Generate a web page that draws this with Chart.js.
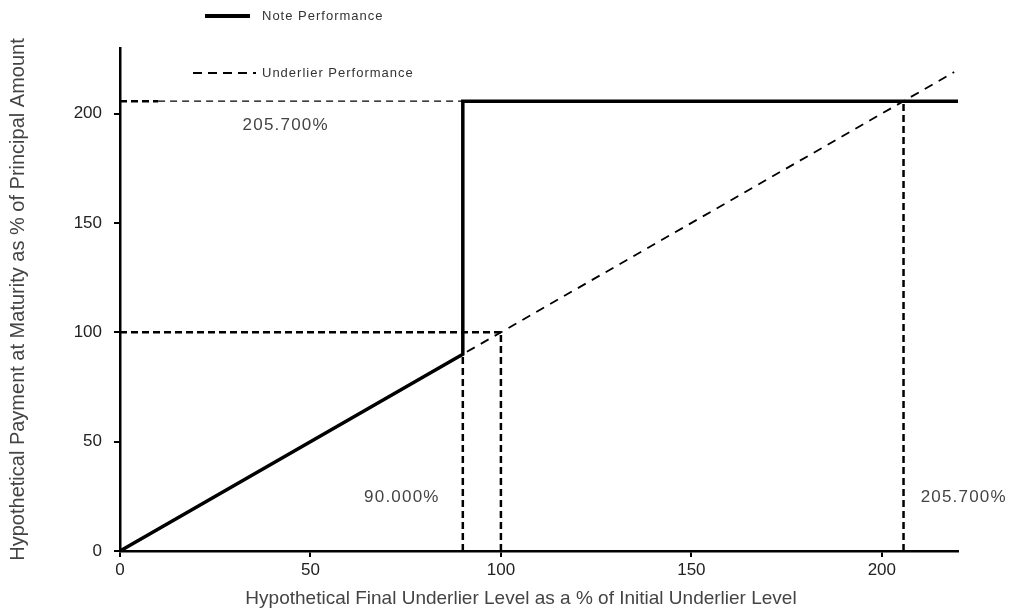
<!DOCTYPE html>
<html>
<head>
<meta charset="utf-8">
<script src="https://cdn.jsdelivr.net/npm/chart.js@4/dist/chart.umd.min.js"></script>
<style>
  html, body { margin: 0; padding: 0; background: #fff; }
  #wrap { width: 1010px; height: 611px; }
</style>
</head>
<body>
<div id="wrap"><canvas id="c"></canvas></div>
<script>
// payoff data
const noteX = [0, 90, 90, 220];
const noteY = [0, 90, 205.7, 205.7];
const underX = [0, 219];
const underY = [0, 219];
// guide segments [x1, y1, x2, y2]
const guideThick = [[0, 100, 100, 100], [90, 0, 90, 90], [100, 0, 100, 100], [205.7, 0, 205.7, 205.7], [0, 205.7, 10, 205.7]];
const guideThin = [[10, 205.7, 90, 205.7]];
// value labels
const valueLabels = ["205.700%", "90.000%", "205.700%"];
const labelX = [43.5, 74, 221.5];
const labelY = [194.5, 24.5, 24.5];
const xTicks = [0, 50, 100, 150, 200];
const yTicks = [0, 50, 100, 150, 200];
const seriesNames = ["Note Performance", "Underlier Performance"];
const xTitle = "Hypothetical Final Underlier Level as a % of Initial Underlier Level";
const yTitle = "Hypothetical Payment at Maturity as % of Principal Amount";

const FONT = "'Liberation Sans', Arial, sans-serif";
const toPts = (xs, ys) => xs.map((x, i) => ({ x: x, y: ys[i] }));
const seg = (g) => [{ x: g[0], y: g[1] }, { x: g[2], y: g[3] }];

const datasets = [];
guideThick.forEach(g => datasets.push({
  data: seg(g), borderColor: "#000", borderWidth: 2.5, borderDash: [7, 4], pointRadius: 0
}));
guideThin.forEach(g => datasets.push({
  data: seg(g), borderColor: "#000", borderWidth: 1.2, borderDash: [7, 5], pointRadius: 0
}));
datasets.push({
  label: seriesNames[1], data: toPts(underX, underY),
  borderColor: "#000", borderWidth: 1.8, borderDash: [9, 7], pointRadius: 0
});
datasets.push({
  label: seriesNames[0], data: toPts(noteX, noteY),
  borderColor: "#000", borderWidth: 3.5, pointRadius: 0, borderJoinStyle: "miter"
});

const extras = {
  id: "extras",
  afterDraw(chart) {
    const { ctx, scales: { x, y } } = chart;
    ctx.save();
    ctx.fillStyle = "#444";
    ctx.font = "17px " + FONT;
    ctx.letterSpacing = "1.2px";
    ctx.textAlign = "center";
    ctx.textBaseline = "middle";
    valueLabels.forEach((t, i) => {
      ctx.fillText(t, x.getPixelForValue(labelX[i]), y.getPixelForValue(labelY[i]));
    });
    // x axis title, sits a bit left of the plot centre in the original
    ctx.letterSpacing = "0px";
    ctx.font = "19px " + FONT;
    ctx.fillText(xTitle, 521, 599);
    // legend
    ctx.strokeStyle = "#000";
    ctx.lineWidth = 4;
    ctx.beginPath(); ctx.moveTo(205, 16); ctx.lineTo(250, 16); ctx.stroke();
    ctx.lineWidth = 2;
    ctx.setLineDash([9, 6]);
    ctx.beginPath(); ctx.moveTo(193, 73); ctx.lineTo(256, 73); ctx.stroke();
    ctx.setLineDash([]);
    ctx.font = "13px " + FONT;
    ctx.letterSpacing = "1px";
    ctx.fillStyle = "#333";
    ctx.textAlign = "left";
    ctx.fillText(seriesNames[0], 262, 16);
    ctx.fillText(seriesNames[1], 262, 73);
    ctx.restore();
  }
};

new Chart(document.getElementById("c"), {
  type: "line",
  data: { datasets: datasets },
  options: {
    responsive: true,
    maintainAspectRatio: false,
    animation: false,
    layout: { padding: { top: 48, right: 52, left: 6, bottom: 0 } },
    plugins: { legend: { display: false }, tooltip: { enabled: false } },
    scales: {
      x: {
        type: "linear", min: 0, max: 220,
        afterBuildTicks: s => { s.ticks = xTicks.map(v => ({ value: v })); },
        afterFit: s => { s.height = 60; },
        grid: { drawOnChartArea: false, drawTicks: true, tickLength: 6, color: "#000", lineWidth: 2 },
        border: { color: "#000", width: 2.5 },
        ticks: { color: "#222", font: { family: FONT, size: 17 }, padding: 3, maxRotation: 0 },
        title: { display: false }
      },
      y: {
        type: "linear", min: 0, max: 230,
        afterBuildTicks: s => { s.ticks = yTicks.map(v => ({ value: v })); },
        afterFit: s => { s.width = 114; },
        grid: { drawOnChartArea: false, drawTicks: true, tickLength: 6, color: "#000", lineWidth: 2 },
        border: { color: "#000", width: 2.5 },
        ticks: { color: "#222", font: { family: FONT, size: 17 }, padding: 12 },
        title: { display: true, text: yTitle,
                 color: "#444", font: { family: FONT, size: 20 }, padding: { top: 0, bottom: 0 } }
      }
    }
  },
  plugins: [extras]
});
</script>
</body>
</html>
